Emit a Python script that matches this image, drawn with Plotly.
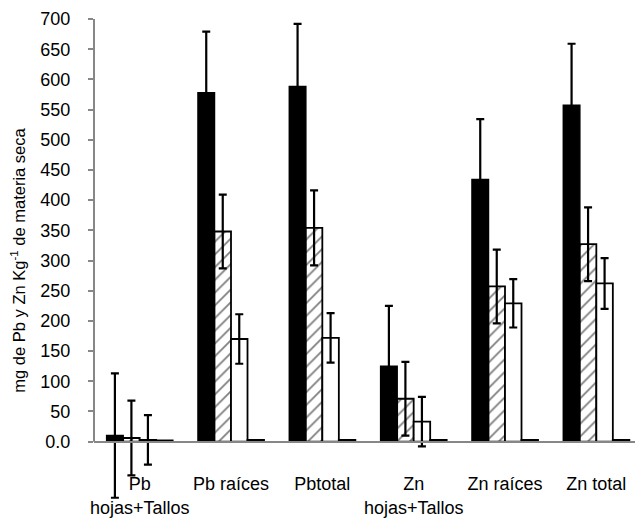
import plotly.graph_objects as go

categories = ["Pb<br>hojas+Tallos", "Pb raíces", "Pbtotal", "Zn<br>hojas+Tallos", "Zn raíces", "Zn total"]

s1_vals = [10, 578, 588, 125, 434, 557]
s1_err = [103, 101, 104, 100, 100, 102]
s2_vals = [6, 348, 354, 71, 257, 327]
s2_err = [62, 61, 62, 61, 61, 61]
s3_vals = [3, 170, 172, 33, 229, 262]
s3_err = [41, 41, 41, 41, 40, 42]
s4_vals = [2, 3, 3, 3, 3, 3]

y_ticks = [0, 50, 100, 150, 200, 250, 300, 350, 400, 450, 500, 550, 600, 650, 700]
y_tick_text = ["0.0"] + [str(v) for v in y_ticks[1:]]

FONT = "Liberation Sans, Arial, sans-serif"
GREY = "#878787"

def err(vals):
    return dict(type="data", array=vals, visible=True, color="black", thickness=2.2, width=4)

fig = go.Figure()
fig.add_trace(go.Bar(x=categories, y=s1_vals, error_y=err(s1_err),
                     marker=dict(color="black", line=dict(color="black", width=1.5))))
fig.add_trace(go.Bar(x=categories, y=s2_vals, error_y=err(s2_err),
                     marker=dict(color="white", line=dict(color="black", width=1.8),
                                 pattern=dict(shape="/", fgcolor="black", bgcolor="white",
                                              size=9, solidity=0.2))))
fig.add_trace(go.Bar(x=categories, y=s3_vals, error_y=err(s3_err),
                     marker=dict(color="white", line=dict(color="black", width=1.8))))
fig.add_trace(go.Bar(x=categories, y=s4_vals,
                     marker=dict(color="white", line=dict(color="black", width=1.8))))

fig.add_shape(type="line", xref="paper", yref="y", x0=0, x1=0, y0=0, y1=700,
              line=dict(color=GREY, width=2))

fig.update_layout(
    width=635, height=520,
    margin=dict(l=86, r=1, t=6, b=26),
    paper_bgcolor="white", plot_bgcolor="white",
    showlegend=False,
    barmode="group", bargap=0.277, bargroupgap=0,
    font=dict(family=FONT, size=18, color="black"),
    xaxis=dict(
        anchor="free", position=0.125,
        showline=True, linecolor=GREY, linewidth=2,
        showgrid=False, ticks="", ticklabelstandoff=26,
        tickfont=dict(size=18),
    ),
    yaxis=dict(
        range=[-100, 700],
        tickvals=y_ticks, ticktext=y_tick_text,
        ticklabeloverflow="allow",
        showline=False, showgrid=False, zeroline=False,
        ticks="outside", ticklen=5, tickcolor=GREY, tickwidth=2,
        ticklabelstandoff=14,
        tickfont=dict(size=18),
        title=dict(text="mg de Pb y Zn Kg<sup>-1</sup> de materia seca",
                   font=dict(size=16.5), standoff=18),
    ),
)

fig.write_html("out.html")
